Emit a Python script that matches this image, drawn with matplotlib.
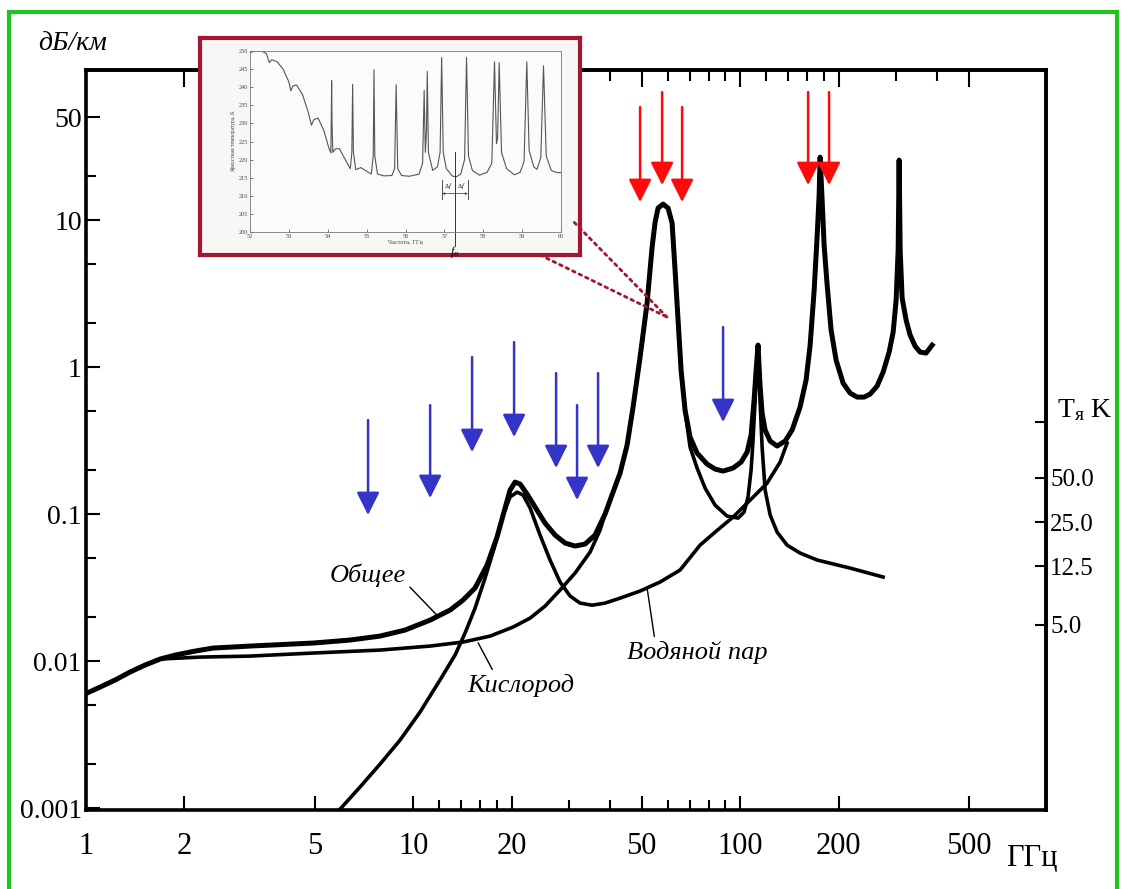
import matplotlib
matplotlib.use("Agg")
import matplotlib.pyplot as plt
from matplotlib.patches import Rectangle, ConnectionPatch
from matplotlib.ticker import FixedLocator, NullLocator, NullFormatter

plt.rcParams['font.family'] = ['Liberation Serif', 'DejaVu Serif']
plt.rcParams['mathtext.fontset'] = 'custom'
plt.rcParams['mathtext.rm'] = 'Liberation Serif'
plt.rcParams['mathtext.it'] = 'Liberation Serif:italic'

# ---- main curves (ГГц, дБ/км) ----
total_f  = [1.007, 1.104, 1.227, 1.363, 1.515, 1.684, 1.872, 2.154, 2.445, 3.172, 4.943, 6.414,
            7.922, 9.445, 11.27, 12.97, 14.21, 15.46, 16.83, 18.05, 19.10, 19.78, 20.49, 21.23,
            22.30, 23.59, 25.31, 27.15, 29.14, 31.26, 33.54, 35.98, 38.61, 40.84, 42.91, 45.08,
            47.02, 49.40, 51.89, 53.76, 54.91, 56.08, 58.08, 60.16, 61.88, 63.19, 64.54, 65.92,
            67.79, 70.22, 73.78, 79.17, 83.74, 88.60, 95.06, 100.6, 104.9, 107.9, 110.2, 111.8,
            113.3, 114.9, 116.6, 119.1, 123.4, 129.6, 137.1, 144.0, 152.3, 158.9, 163.5, 168.2,
            171.7, 174.2, 175.4, 177.9, 180.4, 184.3, 189.5, 196.3, 206.2, 216.7, 227.6, 239.1,
            249.4, 262.0, 273.3, 285.1, 293.3, 299.5, 303.8, 305.9, 308.1, 312.4, 321.3, 330.5,
            342.3, 354.5, 369.8, 385.9]
total_db = [0.00606, 0.00665, 0.00743, 0.00842, 0.00939, 0.01032, 0.01098, 0.01169, 0.01226,
            0.01265, 0.01326, 0.0139, 0.01479, 0.01625, 0.019, 0.02223, 0.026, 0.0314, 0.045,
            0.0698, 0.1099, 0.1456, 0.165, 0.16, 0.1368, 0.1116, 0.0868, 0.072, 0.0635, 0.0606,
            0.0625, 0.072, 0.1, 0.141, 0.19, 0.2946, 0.534, 1.17, 2.725, 6.55, 9.69, 12.07,
            12.85, 12.07, 9.54, 4.57, 2.088, 0.954, 0.51, 0.334, 0.26, 0.2188, 0.2024, 0.1961,
            0.2056, 0.226, 0.264, 0.3446, 0.5964, 0.954, 1.411, 0.7543, 0.4865, 0.3728, 0.3138,
            0.2902, 0.3138, 0.3728, 0.534, 0.816, 1.411, 3.34, 7.66, 14.8, 26.8, 13.68, 6.76,
            3.613, 1.785, 1.116, 0.778, 0.665, 0.625, 0.625, 0.655, 0.7427, 0.9245, 1.265, 1.73,
            2.856, 6.25, 25.6, 6.25, 2.947, 2.088, 1.651, 1.389, 1.265, 1.245, 1.411]

water_f  = [5.98, 6.88, 7.922, 9.12, 10.50, 12.08, 13.43, 14.41, 15.46, 16.59, 17.80, 18.83,
            19.78, 20.78, 21.68, 22.78, 24.43, 26.21, 28.12, 30.18, 32.37, 35.24, 38.61, 42.91,
            49.40, 56.87, 65.45, 75.36, 83.74, 95.06, 107.2, 120.8, 132.4, 139.0]
water_db = [0.000984, 0.00139, 0.00199, 0.0029, 0.0045, 0.00743, 0.01098, 0.0155, 0.0229,
            0.0367, 0.0615, 0.0985, 0.1305, 0.141, 0.1347, 0.1099, 0.072, 0.0487, 0.0345,
            0.0277, 0.0248, 0.024, 0.0248, 0.0268, 0.02995, 0.0345, 0.0416, 0.0615, 0.0754,
            0.0954, 0.1245, 0.1625, 0.226, 0.304]

oxy_f  = [1.007, 1.104, 1.227, 1.363, 1.515, 1.684, 2.231, 3.172, 4.943, 7.922, 11.27, 14.21,
          17.19, 20.20, 22.78, 25.31, 28.12, 31.26, 34.74, 37.27, 38.61, 40.84, 42.91, 45.08,
          47.02, 49.40, 51.89, 53.76, 54.91, 56.08, 58.08, 60.16, 61.88, 63.19, 64.54, 65.92,
          67.79, 70.22, 73.78, 78.07, 83.74, 91.12, 98.47, 102.7, 105.6, 107.9, 109.4, 111.0,
          112.6, 113.3, 114.9, 116.6, 119.1, 123.4, 129.6, 139.0, 152.3, 171.7, 216.7, 273.3]
oxy_db = [0.00606, 0.00665, 0.00743, 0.00842, 0.00939, 0.01032, 0.01064, 0.01081, 0.01134,
          0.01188, 0.01265, 0.01347, 0.01479, 0.01703, 0.0196, 0.02366, 0.0304, 0.0397, 0.0551,
          0.0778, 0.1, 0.141, 0.19, 0.2946, 0.534, 1.17, 2.725, 6.55, 9.69, 12.07, 12.85, 12.07,
          9.54, 4.57, 2.088, 0.954, 0.51, 0.2856, 0.2056, 0.1503, 0.115, 0.0969, 0.0939, 0.1032,
          0.1305, 0.199, 0.319, 0.5964, 1.116, 1.411, 0.5964, 0.2856, 0.1456, 0.0985, 0.0754,
          0.0615, 0.0543, 0.0487, 0.0429, 0.0373]

# ---- radiometer channels (arrows) ----
blue_f   = [7.28, 11.27, 15.14, 20.35, 27.35, 31.7, 36.75, 88.6]
blue_top = [0.436, 0.551, 1.17, 1.479, 0.91, 0.551, 0.91, 1.871]
blue_tip = [0.0985, 0.1285, 0.264, 0.334, 0.2056, 0.1245, 0.2056, 0.4225]
red_f    = [49.4, 57.68, 66.4, 161.2, 186.8]
red_top  = [58.7, 74.3, 58.7, 74.3, 74.3]
red_tip  = [13.26, 17.3, 13.26, 17.3, 17.3]

# ---- axis ticks and labels ----
x_ticks = [1, 2, 5, 10, 20, 50, 100, 200, 500]
x_minor = [12, 14, 16, 18, 30, 40, 60, 70, 80, 90]
top_ticks = [2, 5, 10, 20, 50, 100, 200, 500]
top_minor = [12, 14, 16, 18, 30, 40, 60, 70, 80, 90, 120, 140, 160, 180, 300, 400]
y_ticks = [0.001, 0.01, 0.1, 1, 10, 50]
y_labels = ["0.001", "0.01", "0.1", "1", "10", "50"]
y_minor = [0.002, 0.005, 0.02, 0.05, 0.2, 0.5, 2, 5, 20]
tb_ticks = [5.0, 12.5, 25.0, 50.0, 120.0]
tb_labels = ["5.0", "12.5", "25.0", "50.0", ""]
tb_per_db = 284.0  # K per dB/km

# ---- inset: O2 band spectrum (ГГц, К) ----
inset_f = [52.00, 52.15, 52.30, 52.42, 52.50, 52.56, 52.70, 52.85, 53.00, 53.05, 53.10, 53.20,
           53.35, 53.50, 53.58, 53.64, 53.75, 53.90, 54.02, 54.08, 54.09, 54.10, 54.11, 54.13,
           54.20, 54.30, 54.45, 54.58, 54.62, 54.64, 54.66, 54.72, 54.85, 55.00, 55.12, 55.17,
           55.19, 55.21, 55.28, 55.45, 55.65, 55.72, 55.76, 55.80, 55.90, 56.10, 56.35, 56.44,
           56.48, 56.51, 56.54, 56.56, 56.59, 56.70, 56.82, 56.89, 56.93, 56.97, 57.05, 57.20,
           57.30, 57.42, 57.52, 57.57, 57.62, 57.72, 57.90, 58.10, 58.22, 58.29, 58.34, 58.37,
           58.41, 58.47, 58.60, 58.80, 58.95, 59.05, 59.12, 59.18, 59.30, 59.38, 59.48, 59.55,
           59.62, 59.75, 59.90, 60.00]
inset_t = [249.6, 250.0, 250.0, 249.3, 246.8, 247.6, 247.0, 245.0, 241.5, 239.0, 240.3, 240.6,
           238.0, 233.0, 229.5, 231.0, 231.5, 228.0, 223.5, 221.8, 230.0, 241.8, 230.0, 222.0,
           223.0, 223.0, 220.0, 217.5, 222.0, 240.8, 222.0, 217.2, 217.8, 216.8, 216.0, 221.0,
           244.8, 221.0, 216.0, 215.5, 215.6, 217.5, 240.7, 217.5, 215.6, 215.4, 216.0, 219.0,
           239.1, 222.0, 228.0, 244.4, 222.0, 217.0, 218.0, 222.0, 248.2, 222.0, 217.5, 215.5,
           215.2, 216.0, 220.0, 248.2, 221.0, 217.0, 215.7, 216.5, 219.0, 247.0, 224.4, 226.0,
           246.8, 222.0, 217.5, 215.8, 216.5, 219.5, 247.0, 222.5, 218.0, 217.3, 220.5, 245.9,
           221.0, 217.0, 216.4, 216.4]
inset_f0 = 57.27
inset_df = [56.95, 57.60]

MAROON = "#a3162f"
BLUE = "#3434c8"
RED = "#ff0a0a"

fig = plt.figure(figsize=(11.22, 8.89), dpi=100)
ax = fig.add_axes([86 / 1122, 1 - 810 / 889, 960 / 1122, 740 / 889])
ax.set_xscale("log")
ax.set_yscale("log")
ax.set_xlim(1.0, 860)
ax.set_ylim(0.00097, 105)

ax.plot(oxy_f, oxy_db, color="black", lw=2.6, solid_joinstyle="round", zorder=3)
ax.plot(water_f, water_db, color="black", lw=2.6, solid_joinstyle="round", zorder=3)
ax.plot(total_f, total_db, color="black", lw=3.6, solid_joinstyle="round", zorder=4)

arrow_style = "-|>,head_length=1.0,head_width=0.5"
for f, a, b in zip(blue_f, blue_top, blue_tip):
    ax.annotate("", xy=(f, b), xytext=(f, a),
                arrowprops=dict(arrowstyle=arrow_style, mutation_scale=14, color=BLUE, lw=1.8,
                                shrinkA=0, shrinkB=0), zorder=5)
for f, a, b in zip(red_f, red_top, red_tip):
    ax.annotate("", xy=(f, b), xytext=(f, a),
                arrowprops=dict(arrowstyle=arrow_style, mutation_scale=14, color=RED, lw=1.8,
                                shrinkA=0, shrinkB=0), zorder=5)

lab = dict(fontsize=19, style="italic", ha="center", va="center")
ax.annotate("Общее", xy=(11.8, 0.0206), xytext=(7.28, 0.0385), textcoords="data",
            arrowprops=dict(arrowstyle="-", lw=1.0, color="black", relpos=(1.0, 0.15),
                            shrinkA=1, shrinkB=0), **lab)
ax.annotate("Кислород", xy=(15.8, 0.0133), xytext=(21.4, 0.00687), textcoords="data",
            arrowprops=dict(arrowstyle="-", lw=1.0, color="black", relpos=(0.25, 1.0),
                            shrinkA=1, shrinkB=0), **lab)
ax.annotate("Водяной пар", xy=(51.9, 0.0314), xytext=(73.8, 0.0115), textcoords="data",
            arrowprops=dict(arrowstyle="-", lw=1.0, color="black", relpos=(0.2, 1.0),
                            shrinkA=1, shrinkB=0), **lab)

# axes look
for s in ax.spines.values():
    s.set_linewidth(2.6)
ax.xaxis.set_major_locator(FixedLocator(x_ticks))
ax.set_xticklabels([str(t) for t in x_ticks])
ax.xaxis.set_minor_locator(FixedLocator(x_minor))
ax.xaxis.set_minor_formatter(NullFormatter())
ax.yaxis.set_major_locator(FixedLocator(y_ticks))
ax.set_yticklabels(y_labels)
ax.yaxis.set_minor_locator(FixedLocator(y_minor))
ax.yaxis.set_minor_formatter(NullFormatter())
ax.tick_params(axis="both", which="both", direction="in", width=1.5, top=False, right=False)
ax.tick_params(axis="both", which="major", length=10)
ax.tick_params(axis="both", which="minor", length=7)
ax.tick_params(axis="x", which="major", labelsize=22, pad=16)
ax.tick_params(axis="y", which="major", labelsize=20, pad=3)

top = ax.secondary_xaxis("top")
top.xaxis.set_major_locator(FixedLocator(top_ticks))
top.xaxis.set_minor_locator(FixedLocator(top_minor))
top.xaxis.set_major_formatter(NullFormatter())
top.xaxis.set_minor_formatter(NullFormatter())
top.tick_params(which="both", direction="in", width=1.5)
top.tick_params(which="major", length=12)
top.tick_params(which="minor", length=8)
top.spines["top"].set_linewidth(2.6)

sec = ax.secondary_yaxis("right", functions=(lambda v: v * tb_per_db, lambda t: t / tb_per_db))
sec.set_yticks(tb_ticks)
sec.set_yticklabels(tb_labels)
sec.yaxis.set_minor_locator(NullLocator())
sec.tick_params(direction="in", length=8, width=1.5, labelsize=18, pad=3)
sec.spines["right"].set_linewidth(2.6)

fig.text(1057 / 1122, 1 - 410 / 889, r"T$_{\mathrm{я}}$ K", fontsize=20, ha="left", va="center")
fig.text(73 / 1122, 1 - 43 / 889, "дБ/км", fontsize=20, style="italic", ha="center", va="center")
fig.text(1006 / 1122, 1 - 858 / 889, "ГГц", fontsize=22, ha="left", va="center")

# inset frame with the O2 band spectrum
frame = fig.add_axes([200 / 1122, 1 - 255 / 889, 380 / 1122, 217 / 889])
frame.set_facecolor("#f7f7f5")
frame.set_xticks([])
frame.set_yticks([])
for s in frame.spines.values():
    s.set_color(MAROON)
    s.set_linewidth(3)

ins = fig.add_axes([250 / 1122, 1 - 232 / 889, 311 / 1122, 181 / 889])
ins.set_facecolor("#fbfbfa")
ins.plot(inset_f, inset_t, color="#555555", lw=0.8)
ins.set_xlim(52, 60)
ins.set_ylim(200, 250)
ins.set_xticks(range(52, 61))
ins.set_yticks(range(200, 251, 5))
ins.tick_params(direction="in", length=2, width=0.5, labelsize=4.5, pad=1.5, colors="#444444")
for s in ins.spines.values():
    s.set_color("#777777")
    s.set_linewidth(0.6)
ins.set_xlabel("Частота, ГГц", fontsize=4.5, labelpad=1, color="#444444")
ins.set_ylabel("Яркостная температура, К", fontsize=4, labelpad=2, color="#444444")
ins.plot([inset_f0, inset_f0], [196.5, 222], color="#333333", lw=0.7, clip_on=False)
for x in inset_df:
    ins.plot([x, x], [209, 214.5], color="#333333", lw=0.6)
ins.annotate("", xy=(inset_df[0], 210.6), xytext=(inset_df[1], 210.6),
             arrowprops=dict(arrowstyle="<|-|>", mutation_scale=3, lw=0.5, color="#333333",
                             shrinkA=0, shrinkB=0))
ins.text((inset_df[0] + inset_f0) / 2, 212.6, r"$\Delta f$", fontsize=4.5, ha="center", va="center")
ins.text((inset_df[1] + inset_f0) / 2, 212.6, r"$\Delta f$", fontsize=4.5, ha="center", va="center")
ins.text(inset_f0, 194.5, r"$f_o$", fontsize=9, ha="center", va="center", clip_on=False)

for xa in [(0.985, 0.15), (0.895, 0.0)]:
    con = ConnectionPatch(xyA=xa, coordsA=frame.transAxes, xyB=(59.7, 2.19), coordsB=ax.transData,
                          color=MAROON, lw=2.0, linestyle=(0, (1, 1.6)))
    fig.add_artist(con)

fig.add_artist(Rectangle((9 / 1122, -0.05), 1108 / 1122, 1.05 - 12 / 889, transform=fig.transFigure,
                         fill=False, edgecolor="#1fc51f", lw=3))

fig.savefig("out.png", dpi=100, facecolor="white")
